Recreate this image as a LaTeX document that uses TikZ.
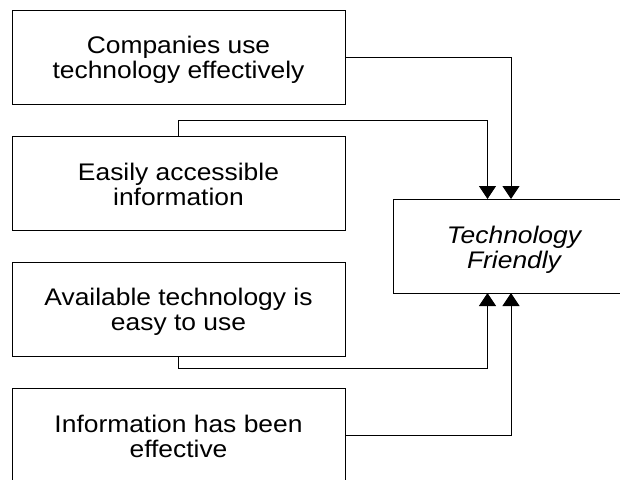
\documentclass[tikz,border=0pt]{standalone}
\usepackage{fontspec}
\setmainfont{Liberation Sans}[FakeStretch=1.1]
\usetikzlibrary{arrows.meta}
\begin{document}
\begin{tikzpicture}[x=1pt,y=-1pt,
  box/.style={draw=black, line width=1pt, minimum width=333pt, minimum height=94pt, inner sep=0pt},
  txt/.style={align=center, inner sep=0pt, font=\fontsize{24}{25}\selectfont},
  conn/.style={draw=black, line width=0.9pt},
  arr/.style={-{Triangle[width=17pt,length=13pt]}}]
\useasboundingbox (0,0) rectangle (620,479);
\clip (0,0) rectangle (620,479);
\node[box] (b1) at (178.5,57) {};
\node[box] (b2) at (178.5,183) {};
\node[box] (b3) at (178.5,309) {};
\node[box] (b4) at (178.5,435) {};
\node[box, minimum width=242pt] (tf) at (514,246) {};
\node[txt] (t1) at ([yshift=-2.5pt]b1.center) {Companies use\\technology effectively};
\node[txt] (t2) at ([yshift=-1pt]b2.center) {Easily accessible\\information};
\node[txt] (t3) at ([yshift=-2.5pt]b3.center) {Available technology is\\easy to use};
\node[txt] (t4) at ([yshift=-1.5pt]b4.center) {Information has been\\effective};
\node[txt, font=\fontsize{24}{25}\selectfont\itshape] (t5) at ([yshift=-3.5pt]tf.center) {Technology\\Friendly};
\coordinate (inA) at (487.5,199);
\coordinate (inB) at (511,199);
\coordinate (outA) at (487.5,293);
\coordinate (outB) at (511,293);
\draw[conn,arr] (b1.east) -| (inB);
\draw[conn,arr] (b2.north) -- ++(0,-15) -| (inA);
\draw[conn,arr] (b3.south) -- ++(0,12) -| (outA);
\draw[conn,arr] (b4.east) -| (outB);
\end{tikzpicture}
\end{document}
